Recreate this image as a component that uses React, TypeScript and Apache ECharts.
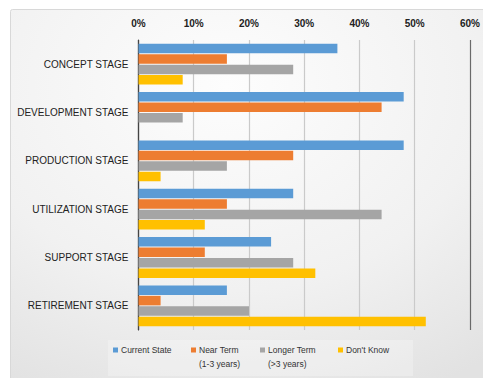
import React, { useEffect, useRef } from "react";
import * as echarts from "echarts";

const categories = [
  "CONCEPT STAGE",
  "DEVELOPMENT STAGE",
  "PRODUCTION STAGE",
  "UTILIZATION STAGE",
  "SUPPORT STAGE",
  "RETIREMENT STAGE",
];
const seriesNames = ["Current State", "Near Term (1-3 years)", "Longer Term (>3 years)", "Don't Know"];
const legendLabels = ["Current State\n ", "Near Term\n(1-3 years)", "Longer Term\n(>3 years)", "Don't Know\n "];
const currentState = [36, 48, 48, 28, 24, 16];
const nearTerm = [16, 44, 28, 16, 12, 4];
const longerTerm = [28, 8, 16, 44, 28, 20];
const dontKnow = [8, 0, 4, 12, 32, 52];
const seriesData = [currentState, nearTerm, longerTerm, dontKnow];
const colors = ["#5B9BD5", "#ED7D31", "#A5A5A5", "#FFC000"];
const legendLeft = [113, 191, 260, 338];

const FONT = "'Liberation Sans', Arial, sans-serif";

export default function App() {
  const ref = useRef<HTMLDivElement>(null);
  useEffect(() => {
    if (!ref.current) return;
    const chart = echarts.init(ref.current, null, { renderer: "svg" });
    const icon = "path://M0,0L5,0L5,5L0,5Z M0,19L0.01,19Z";
    chart.setOption({
      animation: false,
      backgroundColor: "#ffffff",
      graphic: [
        {
          type: "rect",
          z: -10,
          silent: true,
          shape: { x: 10.5, y: 9.5, width: 480, height: 380, r: 2 },
          style: {
            fill: new echarts.graphic.RadialGradient(0.45, 0.2, 0.9, [
              { offset: 0, color: "#fdfdfd" },
              { offset: 0.6, color: "#f1f1f1" },
              { offset: 1, color: "#e2e2e2" },
            ]),
            stroke: "#d8d8d8",
            lineWidth: 1,
          },
        },
        {
          type: "rect",
          z: -5,
          silent: true,
          shape: { x: 108, y: 340, width: 305, height: 36 },
          style: { fill: "rgba(255,255,255,0.25)" },
        },
      ],
      grid: { left: 138.5, right: 12, top: 40, bottom: 48, containLabel: false },
      xAxis: {
        type: "value",
        position: "top",
        min: 0,
        max: 60,
        interval: 10,
        axisLine: { show: false },
        axisTick: { show: false },
        axisLabel: {
          formatter: "{value}%",
          fontFamily: FONT,
          fontSize: 10,
          fontWeight: "bold",
          color: "#222",
          margin: 12,
        },
        splitLine: {
          show: true,
          lineStyle: {
            color: ["#555", "#cacaca", "#cacaca", "#cacaca", "#cacaca", "#cacaca", "#6a6a6a"],
            width: 1.2,
          },
        },
      },
      yAxis: {
        type: "category",
        inverse: true,
        data: categories,
        axisLine: { show: true, lineStyle: { color: "#444", width: 1.2 } },
        axisTick: { show: false },
        axisLabel: { fontFamily: FONT, fontSize: 10, color: "#222", margin: 10 },
      },
      legend: seriesNames.map((name, i) => ({
        data: [name],
        left: legendLeft[i],
        top: 343,
        padding: 0,
        icon,
        itemWidth: 5,
        itemHeight: 19,
        formatter: () => legendLabels[i],
        textStyle: { fontFamily: FONT, fontSize: 8.5, color: "#333", lineHeight: 14, padding: [0, 0, 0, -2] },
        selectedMode: false,
      })),
      series: seriesNames.map((name, i) => ({
        name,
        type: "bar",
        data: seriesData[i],
        barWidth: 9.5,
        barGap: "10%",
        itemStyle: { color: colors[i] },
      })),
    });
    return () => chart.dispose();
  }, []);
  return (
    <div
      ref={ref}
      style={{ position: "absolute", left: 0, top: 0, width: 483, height: 378 }}
    />
  );
}
